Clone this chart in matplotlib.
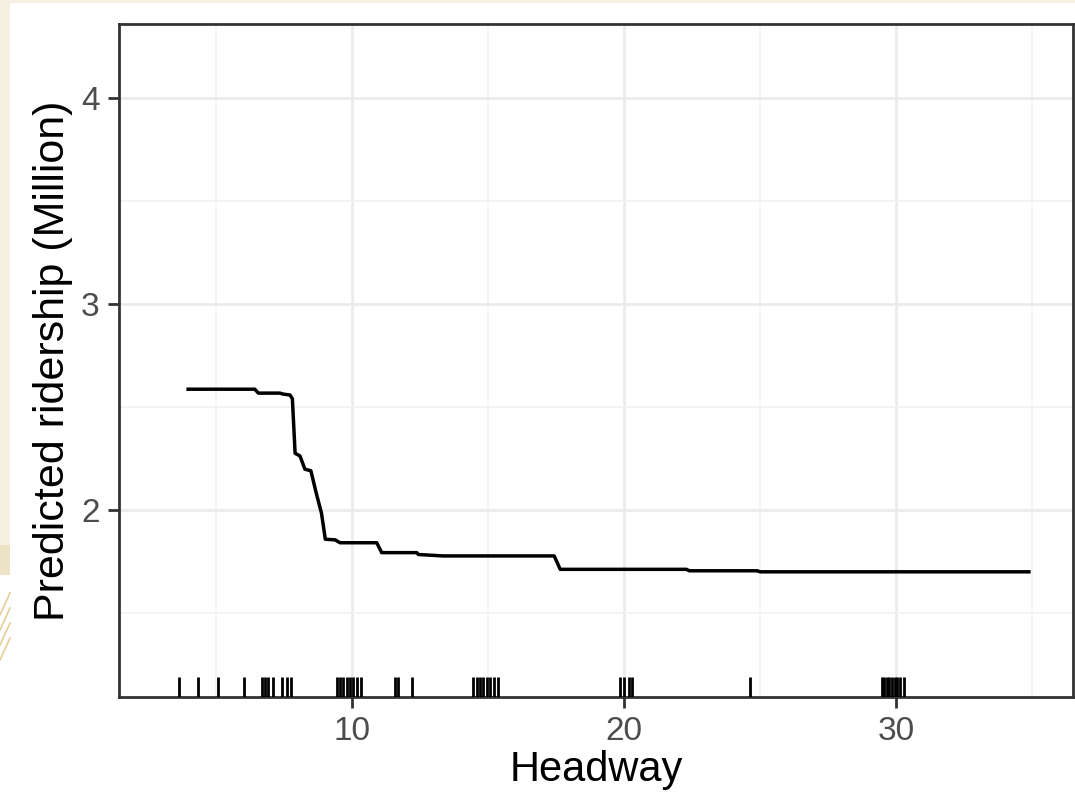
import matplotlib.pyplot as plt
from matplotlib.lines import Line2D
from matplotlib.patches import Rectangle

# Partial dependence of predicted ridership on headway
headway = [3.99, 6.44, 6.57, 7.36, 7.49, 7.73, 7.82, 7.92, 8.10, 8.28, 8.50, 8.70,
           8.89, 9.03, 9.39, 9.57, 10.92, 11.10, 12.39, 12.45, 13.36, 17.44, 17.66,
           22.3, 22.4, 24.9, 25.0, 34.88]
ridership = [2.586, 2.586, 2.567, 2.567, 2.562, 2.558, 2.54, 2.275, 2.262, 2.198, 2.19, 2.08,
             1.984, 1.858, 1.855, 1.841, 1.841, 1.793, 1.793, 1.784, 1.777, 1.777, 1.712,
             1.712, 1.705, 1.705, 1.700, 1.700]

# Observed headway values shown as a rug
rug_headway = [3.66, 4.36, 5.07, 6.05, 6.69, 6.81, 6.93, 7.09, 7.45, 7.61, 7.77,
               9.45, 9.57, 9.69, 9.82, 9.94, 10.06, 10.18, 10.33, 11.59, 11.71, 12.23,
               14.47, 14.60, 14.72, 14.84, 14.96, 15.08, 15.23, 15.39,
               19.87, 19.99, 20.17, 20.29, 24.62,
               29.47, 29.57, 29.65, 29.75, 29.85, 29.95, 30.05, 30.15, 30.30]

x_ticks = [10, 20, 30]
y_ticks = [2, 3, 4]

plt.rcParams['font.family'] = ['Liberation Sans', 'DejaVu Sans']

fig = plt.figure(figsize=(10.75, 7.95), dpi=100)
fig.patch.set_facecolor('white')

# cream slide border along the top and left
fig.patches.append(Rectangle((0, 1 - 3 / 795), 1, 3 / 795, transform=fig.transFigure,
                             facecolor='#f5f0e1', edgecolor='none', zorder=0))
fig.patches.append(Rectangle((0, 1 - 545 / 795), 10 / 1075, 545 / 795, transform=fig.transFigure,
                             facecolor='#f5f0e1', edgecolor='none', zorder=0))
fig.patches.append(Rectangle((0, 1 - 575 / 795), 10 / 1075, 30 / 795, transform=fig.transFigure,
                             facecolor='#ece3c6', edgecolor='none', zorder=0))
for y0 in [615, 630, 645, 660]:
    fig.lines.append(Line2D([0, 10 / 1075], [1 - y0 / 795, 1 - (y0 - 22) / 795],
                            transform=fig.transFigure, color='#e6cf9a', lw=1.2))

ax = fig.add_axes([119 / 1075, 1 - 696.7 / 795, (1073 - 119) / 1075, (696.7 - 24) / 795])
ax.set_facecolor('white')

ax.plot(headway, ridership, color='black', lw=2.5, zorder=3)

# rug along the bottom, 3% of the panel height
for h in rug_headway:
    ax.plot([h, h], [0, 0.03], color='black', lw=2.0, transform=ax.get_xaxis_transform(),
            solid_capstyle='butt', zorder=3)

ax.set_xlim(1.45, 36.5)
ax.set_ylim(1.094, 4.358)
ax.set_xticks(x_ticks)
ax.set_yticks(y_ticks)
ax.set_xticks([5, 15, 25, 35], minor=True)
ax.set_yticks([1.5, 2.5, 3.5], minor=True)

ax.grid(True, which='major', color='#ebebeb', lw=2.0, zorder=0)
ax.grid(True, which='minor', color='#f2f2f2', lw=1.2, zorder=0)
ax.set_axisbelow(True)

ax.tick_params(axis='both', which='major', length=8, width=2, color='#333333',
               labelsize=24, labelcolor='#4d4d4d', pad=6)
ax.tick_params(axis='both', which='minor', length=0)

for s in ax.spines.values():
    s.set_color('#333333')
    s.set_linewidth(2)

ax.set_xlabel('Headway', fontsize=30, color='black', labelpad=2)
ax.set_ylabel('Predicted ridership (Million)', fontsize=31, color='black', labelpad=6)

plt.savefig('out.png', dpi=100)
